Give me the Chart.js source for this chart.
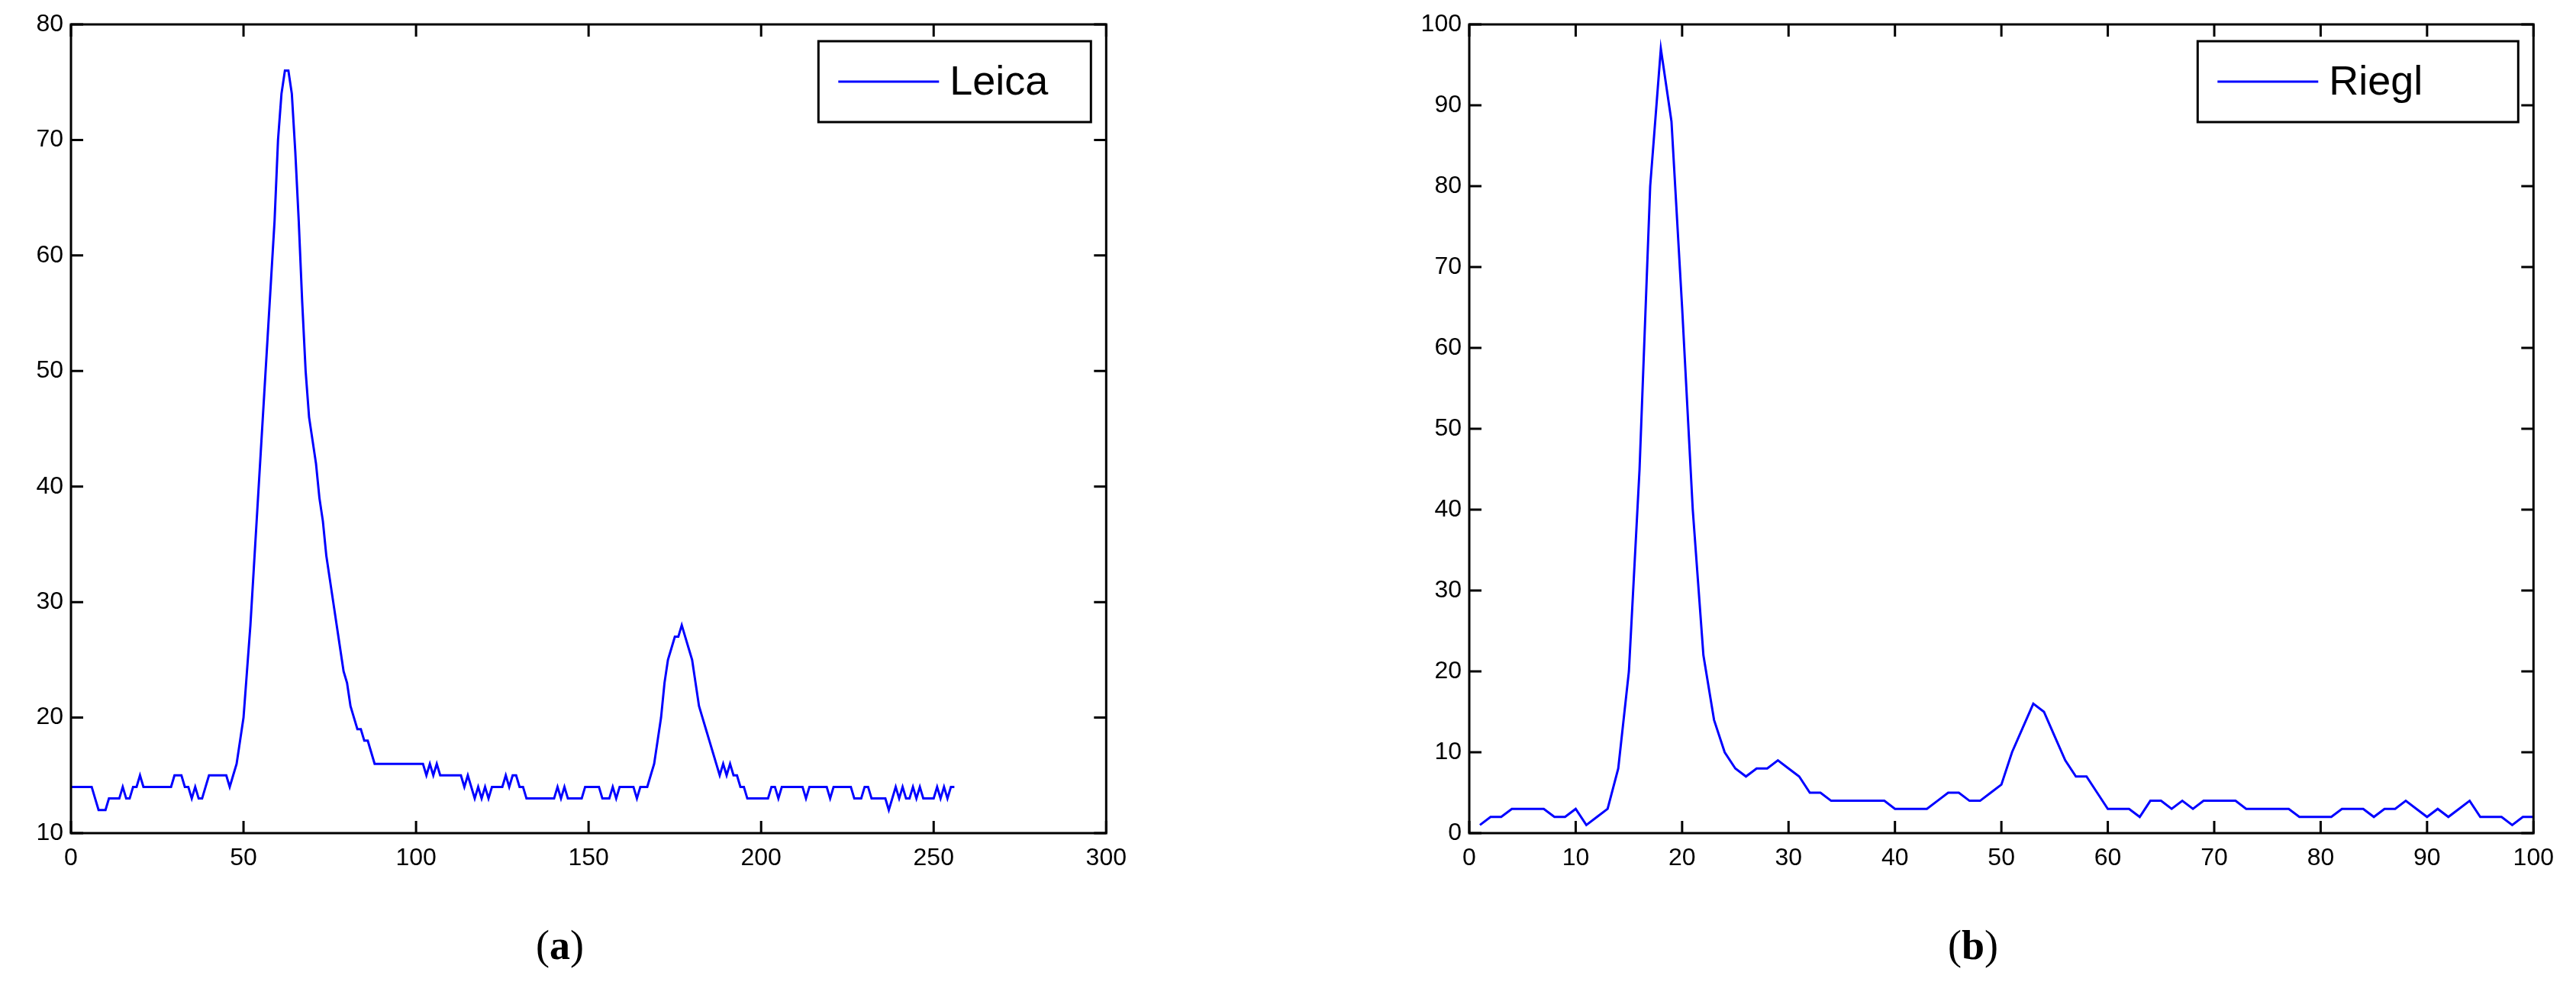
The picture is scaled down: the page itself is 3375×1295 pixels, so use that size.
<!DOCTYPE html>
<html><head><meta charset="utf-8">
<script src="https://cdn.jsdelivr.net/npm/chart.js@4"></script>
<style>
body{margin:0;background:#fff;width:3375px;height:1295px;position:relative;overflow:hidden}
.c{position:absolute}
.cap{position:absolute;font-family:"Liberation Serif",serif;font-size:54px;top:1208px}
</style></head><body>
<div class="c" style="left:0;top:0;width:1490px;height:1175px"><canvas id="a"></canvas></div>
<div class="c" style="left:1832px;top:0;width:1528px;height:1175px"><canvas id="b"></canvas></div>
<div class="cap" style="left:702px">(<b>a</b>)</div>
<div class="cap" style="left:2552px">(<b>b</b>)</div>
<script>
const leicaLabel = "Leica";
const leicaValues = [
14,14,14,14,14,14,14,13,12,12,12,13,13,13,13,14,13,13,14,14,
15,14,14,14,14,14,14,14,14,14,15,15,15,14,14,13,14,13,13,14,
15,15,15,15,15,15,14,15,16,18,20,24,28,33,38,43,48,53,58,63,
70,74,76,76,74,69,63,56,50,46,44,42,39,37,34,32,30,28,26,24,
23,21,20,19,19,18,18,17,16,16,16,16,16,16,16,16,16,16,16,16,
16,16,16,15,16,15,16,15,15,15,15,15,15,15,14,15,14,13,14,13,
14,13,14,14,14,14,15,14,15,15,14,14,13,13,13,13,13,13,13,13,
13,14,13,14,13,13,13,13,13,14,14,14,14,14,13,13,13,14,13,14,
14,14,14,14,13,14,14,14,15,16,18,20,23,25,26,27,27,28,27,26,
25,23,21,20,19,18,17,16,15,16,15,16,15,15,14,14,13,13,13,13,
13,13,13,14,14,13,14,14,14,14,14,14,14,13,14,14,14,14,14,14,
13,14,14,14,14,14,14,13,13,13,14,14,13,13,13,13,13,12,13,14,
13,14,13,13,14,13,14,13,13,13,13,14,13,14,13,14,14];
const leicaX = leicaValues.map((v,i)=>i);
const leicaXTicks = [0,50,100,150,200,250,300];
const leicaYTicks = [10,20,30,40,50,60,70,80];

const rieglLabel = "Riegl";
const rieglValues = [
1,2,2,3,3,3,3,2,2,3,1,2,3,8,20,45,80,97,88,65,
40,22,14,10,8,7,8,8,9,8,7,5,5,4,4,4,4,4,4,3,
3,3,3,4,5,5,4,4,5,6,10,13,16,15,12,9,7,7,5,3,
3,3,2,4,4,3,4,3,4,4,4,4,3,3,3,3,3,2,2,2,
2,3,3,3,2,3,3,4,3,2,3,2,3,4,2,2,2,1,2,2];
const rieglX = rieglValues.map((v,i)=>i+1);
const rieglXTicks = [0,10,20,30,40,50,60,70,80,90,100];
const rieglYTicks = [0,10,20,30,40,50,60,70,80,90,100];

const FONT = {family:"Liberation Sans, Arial, sans-serif", size:32};

const boxPlugin = {
  id:'box',
  afterDraw(chart){
    const {ctx, chartArea:a, scales} = chart;
    ctx.save();
    ctx.strokeStyle='#000'; ctx.lineWidth=3;
    ctx.strokeRect(a.left,a.top,a.right-a.left,a.bottom-a.top);
    const L=16;
    ctx.beginPath();
    scales.x.ticks.forEach(t=>{const x=scales.x.getPixelForValue(t.value);
      ctx.moveTo(x,a.bottom);ctx.lineTo(x,a.bottom-L);ctx.moveTo(x,a.top);ctx.lineTo(x,a.top+L);});
    scales.y.ticks.forEach(t=>{const y=scales.y.getPixelForValue(t.value);
      ctx.moveTo(a.left,y);ctx.lineTo(a.left+L,y);ctx.moveTo(a.right,y);ctx.lineTo(a.right-L,y);});
    ctx.stroke();
    const o = chart.options.plugins.box;
    const ds = chart.data.datasets[0];
    const w=o.w,h=106, x=a.right-20-w, y=a.top+22;
    ctx.fillStyle='#fff'; ctx.fillRect(x,y,w,h);
    ctx.lineWidth=3; ctx.strokeStyle='#000'; ctx.strokeRect(x,y,w,h);
    ctx.strokeStyle=ds.borderColor; ctx.lineWidth=3;
    ctx.beginPath(); ctx.moveTo(x+26,y+h/2); ctx.lineTo(x+158,y+h/2); ctx.stroke();
    ctx.fillStyle='#000'; ctx.font='54px "Liberation Sans", Arial, sans-serif';
    ctx.textBaseline='middle'; ctx.fillText(ds.label,x+172,y+h/2+2);
    ctx.restore();
  }
};

function make(id, xs, ys, label, xt, yt, legW, padRight){
  const xmin=xt[0], xmax=xt[xt.length-1], ymin=yt[0], ymax=yt[yt.length-1];
  new Chart(document.getElementById(id),{
    type:'line',
    data:{datasets:[{label, data:xs.map((x,i)=>({x, y:ys[i]})), borderColor:'#0000ff',
      borderWidth:3, pointRadius:0, tension:0, fill:false}]},
    options:{responsive:true, maintainAspectRatio:false, animation:false, devicePixelRatio:1,
      layout:{padding:{top:32,right:padRight,left:0,bottom:0}},
      plugins:{legend:{display:false}, tooltip:{enabled:false}, box:{w:legW}},
      scales:{
        x:{type:'linear',min:xmin,max:xmax,
          afterBuildTicks:s=>{s.ticks=xt.map(v=>({value:v}));},
          afterFit:s=>{s.height=83;},
          grid:{display:false,drawTicks:false}, border:{display:false},
          ticks:{color:'#000',font:FONT,padding:14,maxRotation:0,autoSkip:false}},
        y:{type:'linear',min:ymin,max:ymax,
          afterBuildTicks:s=>{s.ticks=yt.map(v=>({value:v}));},
          afterFit:s=>{s.width=93;},
          grid:{display:false,drawTicks:false}, border:{display:false},
          ticks:{color:'#000',font:FONT,padding:10,autoSkip:false}}
      }},
    plugins:[boxPlugin]
  });
}
make('a', leicaX, leicaValues, leicaLabel, leicaXTicks, leicaYTicks, 357, 23);
make('b', rieglX, rieglValues, rieglLabel, rieglXTicks, rieglYTicks, 420, 14);
</script></body></html>
